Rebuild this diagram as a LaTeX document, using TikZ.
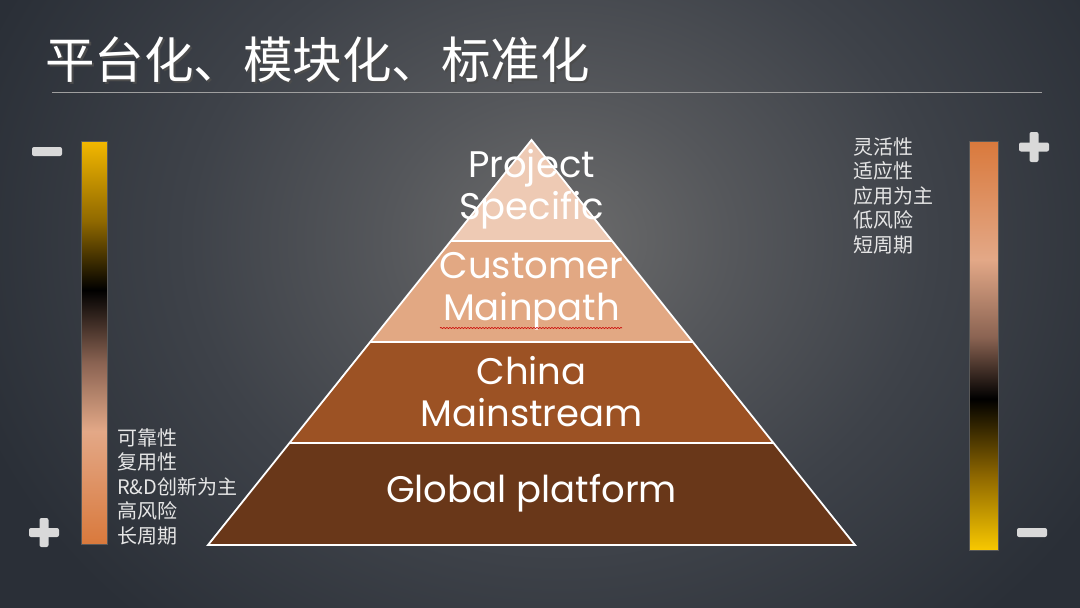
\documentclass[tikz,border=0pt]{standalone}
\usepackage{fontspec}
\setmainfont{Poppins}
\newfontfamily\cjk{Noto Sans CJK SC}
\usetikzlibrary{calc,decorations.pathmorphing}
\definecolor{bgdark}{HTML}{2A2F37}
\definecolor{bgmid}{HTML}{3E4249}
\definecolor{bgmid2}{HTML}{55575B}
\definecolor{bglight}{HTML}{6C6C6C}
\definecolor{layA}{HTML}{EECAB4}
\definecolor{layB}{HTML}{E2A883}
\definecolor{layC}{HTML}{9C5224}
\definecolor{layD}{HTML}{693719}
\definecolor{signgray}{HTML}{D9D9D9}
\definecolor{txtgray}{HTML}{E6E6E6}
\definecolor{cOr}{HTML}{D9793C}
\definecolor{cPe}{HTML}{E3A887}
\definecolor{cBr}{HTML}{8A6352}
\definecolor{cGo}{HTML}{F3B800}
\definecolor{cGd}{HTML}{8F6800}
\definecolor{cYe}{HTML}{F8C800}
\pgfdeclareverticalshading{leftbar}{100bp}{
  color(0bp)=(cOr); color(25bp)=(cOr); color(39bp)=(cPe); color(47.5bp)=(cBr);
  color(56.5bp)=(black); color(65bp)=(cGd); color(75bp)=(cGo); color(100bp)=(cGo)}
\pgfdeclareverticalshading{rightbar}{100bp}{
  color(0bp)=(cYe); color(25bp)=(cYe); color(34bp)=(cGd); color(43.5bp)=(black);
  color(51bp)=(cBr); color(60.5bp)=(cPe); color(75bp)=(cOr); color(100bp)=(cOr)}
\pgfdeclareradialshading{bgrad}{\pgfpoint{0bp}{0bp}}{
  color(0bp)=(bglight); color(7bp)=(bgmid2); color(15bp)=(bgmid);
  color(25bp)=(bgdark); color(50bp)=(bgdark)}
\tikzset{
  layer/.style={draw=white, line width=1.8pt, line join=miter},
  lbl/.style={text=white, align=center, font=\fontsize{37}{42}\selectfont, inner sep=0pt},
  side/.style={text=txtgray, align=left, anchor=north west, inner sep=0pt,
    font=\cjk\fontsize{20}{24.5}\selectfont},
  sign/.style={fill=signgray, rounded corners=2pt, draw=none},
  bar/.style={draw=gray!70!black, line width=0.8pt}
}
\begin{document}
\begin{tikzpicture}[x=1pt,y=-1pt]
\useasboundingbox (0,0) rectangle (1080,608);
% background
\fill[bgdark] (0,0) rectangle (1080,608);
\begin{scope}
  \clip (0,0) rectangle (1080,608);
  \shade[shading=bgrad] (560,240) ellipse [x radius=620, y radius=520];
\end{scope}
% title
\node[anchor=west, text=black!70, inner sep=0pt, font=\cjk\fontsize{49.5}{50}\selectfont] (titleshadow) at (47,62) {平台化、模块化、标准化};
\node[anchor=west, text=white, inner sep=0pt, font=\cjk\fontsize{49.5}{50}\selectfont] (title) at (45,60) {平台化、模块化、标准化};
\draw[gray!75, line width=0.8pt] (52,92) -- (1042,92);
% pyramid
\coordinate (A) at (531.5,140);
\coordinate (BL) at (208,545);
\coordinate (BR) at (855,545);
\coordinate (L1) at ($(A)!0.2494!(BL)$); \coordinate (R1) at ($(A)!0.2494!(BR)$);
\coordinate (L2) at ($(A)!0.4988!(BL)$); \coordinate (R2) at ($(A)!0.4988!(BR)$);
\coordinate (L3) at ($(A)!0.7481!(BL)$); \coordinate (R3) at ($(A)!0.7481!(BR)$);
\fill[layD] (L3) -- (R3) -- (BR) -- (BL) -- cycle;
\fill[layC] (L2) -- (R2) -- (R3) -- (L3) -- cycle;
\fill[layB] (L1) -- (R1) -- (R2) -- (L2) -- cycle;
\fill[layA] (A) -- (R1) -- (L1) -- cycle;
\draw[layer] (L1) -- (R1) (L2) -- (R2) (L3) -- (R3);
\draw[layer] (A) -- (BR) -- (BL) -- cycle;
\node[lbl] (p1) at (531.5,189) {Project\\Specific};
\node[lbl] (p2) at (531.5,291) {Customer\\Mainpath};
\node[lbl] (p3) at (531.5,392) {China\\Mainstream};
\node[lbl] (p4) at (531.5,493) {Global platform};
\draw[red!80!black, line width=0.6pt, decorate, decoration={snake, amplitude=0.6pt, segment length=3pt}]
  (440,328) -- (622,328);
% left bar
\shade[shading=leftbar] (81,141) rectangle (107,544);
\draw[bar] (81,141) rectangle (107,544);
\fill[sign] (32,147) rectangle (62,156);
\fill[sign] (29,528) rectangle (59,537);
\fill[sign] (39.5,518) rectangle (48.5,547);
\node[side] (lt) at (117,428) {可靠性\\复用性\\R\&D创新为主\\高风险\\长周期};
% right bar
\shade[shading=rightbar] (969,141) rectangle (998,550);
\draw[bar] (969,141) rectangle (998,550);
\fill[sign] (1019,142.5) rectangle (1049,151.5);
\fill[sign] (1029.5,132) rectangle (1038.5,162);
\fill[sign] (1017,528) rectangle (1047,537);
\node[side] (rt) at (853,137) {灵活性\\适应性\\应用为主\\低风险\\短周期};
\end{tikzpicture}
\end{document}
